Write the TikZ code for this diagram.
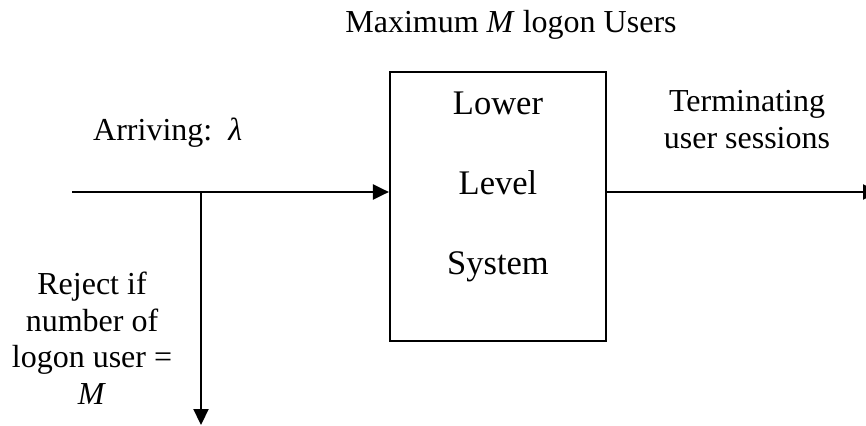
\documentclass[tikz,border=0pt]{standalone}
\usepackage{fontspec}
\setmainfont{Liberation Serif}
\usetikzlibrary{arrows.meta}
\begin{document}
\begin{tikzpicture}[x=1pt,y=-1pt,
  lbl/.style={font=\fontsize{32}{36.5}\selectfont, inner sep=0pt, align=center},
  boxlbl/.style={font=\fontsize{34.5}{80}\selectfont, inner sep=0pt, align=center},
  flow/.style={line width=2.2pt, -{Triangle[length=16pt,width=15pt]}},
  sysbox/.style={draw, line width=2.2pt, inner sep=0pt, minimum width=216pt, minimum height=269pt}]
\useasboundingbox (0,0) rectangle (866,425);
\clip (0,0) rectangle (866,425);

% the lower level system (multi-line nodes are placed by their last baseline)
\node[sysbox] (sys) at (498,206.5) {};
\node[boxlbl, anchor=base] (systext) at (498,274) {Lower\\Level\\System};

% flow points
\coordinate (src) at (72,192);
\coordinate (split) at (201,192);
\coordinate (reject) at (201,425);
\coordinate (out) at (879,192);

% connectors
\draw[flow] (src) -- (src -| sys.west);
\draw[flow] (split) -- (reject);
\draw[flow] (src -| sys.east) -- (out);

% labels
\node[lbl, anchor=base] (title) at (511,33) {Maximum \textit{M} logon Users};
\node[lbl, anchor=base west] (arriving) at (93,140) {Arriving:\ \ \textit{λ}};
\node[lbl, anchor=base] (rejectlbl) at (92,404) {Reject if\\number of\\logon user =\\\textit{M}};
\node[lbl, anchor=base] (term) at (747,148) {Terminating\\user sessions};
\end{tikzpicture}
\end{document}
